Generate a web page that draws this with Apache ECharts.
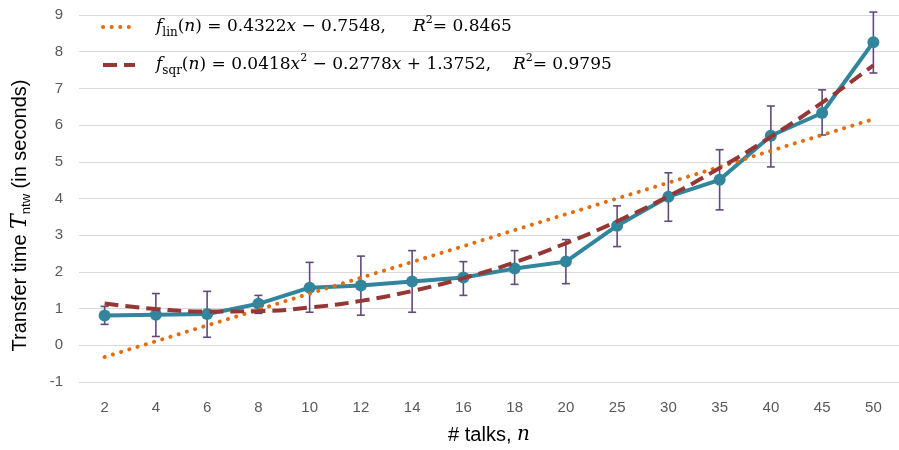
<!DOCTYPE html>
<html>
<head>
<meta charset="utf-8">
<script src="https://cdn.jsdelivr.net/npm/echarts@6/dist/echarts.min.js"></script>
<style>
  html, body { margin: 0; padding: 0; background: #fff; }
  #chart { width: 899px; height: 450px; }
</style>
</head>
<body>
<div id="chart"></div>
<script>
  var talks = ['2', '4', '6', '8', '10', '12', '14', '16', '18', '20', '25', '30', '35', '40', '45', '50'];
  var meanTime = [0.81, 0.83, 0.85, 1.13, 1.57, 1.63, 1.74, 1.85, 2.09, 2.28, 3.26, 4.05, 4.51, 5.71, 6.33, 8.26];
  var errLow = [0.57, 0.24, 0.22, 0.87, 0.90, 0.82, 0.90, 1.36, 1.66, 1.68, 2.69, 3.38, 3.69, 4.86, 5.73, 7.42];
  var errHigh = [1.06, 1.41, 1.47, 1.36, 2.26, 2.43, 2.58, 2.28, 2.58, 2.88, 3.80, 4.70, 5.33, 6.52, 6.96, 9.08];
  // trend lines as drawn (values at categories 1..16)
  var fitLin = [-0.32, 0.11, 0.54, 0.97, 1.41, 1.84, 2.27, 2.70, 3.14, 3.57, 4.00, 4.43, 4.86, 5.30, 5.73, 6.16];
  var fitSqr = [1.14, 0.99, 0.92, 0.93, 1.03, 1.21, 1.48, 1.83, 2.26, 2.78, 3.38, 4.06, 4.83, 5.68, 6.61, 7.63];

  var chart = echarts.init(document.getElementById('chart'));

  var mathFont = '"DejaVu Serif", "Liberation Serif", serif';
  var sansFont = '"Liberation Sans Narrow", "Liberation Sans", sans-serif';

  var legendRich = {
    g: { width: 16 },
    i: { fontFamily: mathFont, fontStyle: 'italic', fontSize: 17, lineHeight: 24, color: '#000' },
    t: { fontFamily: mathFont, fontSize: 17, lineHeight: 24, color: '#000' },
    sub: { fontFamily: mathFont, fontSize: 12, lineHeight: 14, verticalAlign: 'bottom', color: '#000' },
    sup: { fontFamily: mathFont, fontSize: 11, lineHeight: 14, verticalAlign: 'top', color: '#000' }
  };

  var option = {
    animation: false,
    backgroundColor: '#fff',
    grid: { left: 79, right: 0, top: 15, bottom: 67 },
    legend: {
      data: ['lin', 'sqr'],
      orient: 'vertical',
      left: 96,
      top: 10,
      itemWidth: 32,
      itemHeight: 10,
      itemGap: 14,
      itemStyle: { opacity: 0 },
      lineStyle: { width: 4 },
      textStyle: { rich: legendRich },
      formatter: function (name) {
        if (name === 'lin') {
          return '{g|}{i|f}{sub|lin}{t|(}{i|n}{t|) = 0.4322}{i|x}{t| − 0.7548,     }{i|R}{sup|2}{t|= 0.8465}';
        }
        return '{g|}{i|f}{sub|sqr}{t|(}{i|n}{t|) = 0.0418}{i|x}{sup|2}{t| − 0.2778}{i|x}{t| + 1.3752,    }{i|R}{sup|2}{t|= 0.9795}';
      }
    },
    xAxis: {
      type: 'category',
      data: talks,
      boundaryGap: true,
      axisLine: { show: false },
      axisTick: { show: false },
      axisLabel: { fontFamily: sansFont, fontSize: 15, color: '#595959', margin: 18 },
      name: '{a|# talks, }{i|n}',
      nameLocation: 'middle',
      nameGap: 43,
      nameTextStyle: {
        rich: {
          a: { fontFamily: sansFont, fontSize: 20, color: '#000' },
          i: { fontFamily: mathFont, fontStyle: 'italic', fontSize: 20, color: '#000' }
        }
      }
    },
    yAxis: {
      type: 'value',
      min: -1,
      max: 9,
      interval: 1,
      axisLine: { show: false },
      axisTick: { show: false },
      axisLabel: { fontFamily: sansFont, fontSize: 15, color: '#595959', margin: 16 },
      splitLine: { lineStyle: { color: '#d9d9d9', width: 1 } },
      name: '{a|Transfer time }{ti|T}{sub|ntw}{a| (in seconds)}',
      nameLocation: 'middle',
      nameGap: 46,
      nameTextStyle: {
        padding: [0, 34, 0, 0],
        rich: {
          a: { fontFamily: sansFont, fontSize: 20, lineHeight: 26, color: '#000' },
          ti: { fontFamily: mathFont, fontStyle: 'italic', fontSize: 22, lineHeight: 26, color: '#000' },
          sub: { fontFamily: sansFont, fontSize: 13, lineHeight: 16, verticalAlign: 'bottom', color: '#000' }
        }
      }
    },
    series: [
      {
        name: 'errors',
        type: 'custom',
        z: 2,
        data: talks.map(function (t, k) { return [k, errLow[k], errHigh[k]]; }),
        encode: { x: 0, y: [1, 2] },
        renderItem: function (params, api) {
          var lo = api.coord([api.value(0), api.value(1)]);
          var hi = api.coord([api.value(0), api.value(2)]);
          var cap = 4;
          var st = { stroke: '#604a7b', lineWidth: 1.6 };
          return {
            type: 'group',
            children: [
              { type: 'line', shape: { x1: hi[0], y1: hi[1], x2: lo[0], y2: lo[1] }, style: st },
              { type: 'line', shape: { x1: hi[0] - cap, y1: hi[1], x2: hi[0] + cap, y2: hi[1] }, style: st },
              { type: 'line', shape: { x1: lo[0] - cap, y1: lo[1], x2: lo[0] + cap, y2: lo[1] }, style: st }
            ]
          };
        }
      },
      {
        name: 'mean',
        type: 'line',
        z: 3,
        data: meanTime,
        symbol: 'circle',
        symbolSize: 12,
        lineStyle: { color: '#31859c', width: 4 },
        itemStyle: { color: '#31859c' }
      },
      {
        name: 'lin',
        type: 'line',
        z: 4,
        data: fitLin,
        symbol: 'none',
        lineStyle: { color: '#e46c0a', width: 4, type: [0.1, 8.5], cap: 'round' },
        itemStyle: { color: '#e46c0a' }
      },
      {
        name: 'sqr',
        type: 'line',
        z: 4,
        data: fitSqr,
        smooth: true,
        symbol: 'none',
        lineStyle: { color: '#953735', width: 4, type: [14, 7], cap: 'butt' },
        itemStyle: { color: '#953735' }
      }
    ]
  };

  chart.setOption(option);
</script>
</body>
</html>
